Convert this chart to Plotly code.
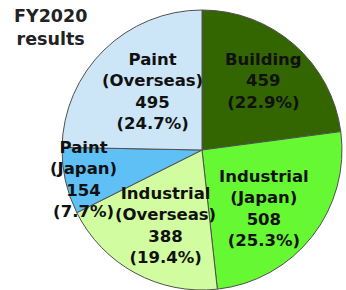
import plotly.graph_objects as go

segments = ["Building", "Industrial (Japan)", "Industrial (Overseas)", "Paint (Japan)", "Paint (Overseas)"]
sales = [459, 508, 388, 154, 495]
colors = ["#336600", "#66f833", "#d2fca0", "#5fc0f5", "#cce6f8"]
title_lines = ["FY2020", "results"]

W, H = 346, 290
# label centres in pixels (layout only)
label_pos = [(263, 81), (264, 208), (165, 225), (83, 179), (152, 91)]

total = sum(sales)
fig = go.Figure(go.Pie(
    labels=segments, values=sales, sort=False, direction="clockwise", rotation=0,
    marker=dict(colors=colors, line=dict(color="#505050", width=1)),
    textinfo="none", hoverinfo="label+value+percent",
    domain=dict(x=[62 / W, 342 / W], y=[0, 1 - 10 / H]),
    showlegend=False,
))

anns = []
for name, v, (px, py) in zip(segments, sales, label_pos):
    txt = name.replace(" (", "<br>(") + f"<br>{v}<br>({v / total * 100:.1f}%)"
    anns.append(dict(x=px / W, y=1 - py / H, xref="paper", yref="paper", text="<b>" + txt + "</b>",
                     showarrow=False, xanchor="center", yanchor="middle", align="center",
                     font=dict(family="DejaVu Sans", size=16.5, color="#111111")))
anns.append(dict(x=50 / W, y=1 - 28 / H, xref="paper", yref="paper",
                 text="<b>" + "<br>".join(title_lines) + "</b>", showarrow=False,
                 xanchor="center", yanchor="middle", align="center",
                 font=dict(family="DejaVu Sans", size=17.5, color="#222222")))

fig.update_layout(width=W, height=H, margin=dict(l=0, r=0, t=0, b=0),
                  paper_bgcolor="white", plot_bgcolor="white", annotations=anns)
fig.write_html("out.html", config={"displayModeBar": False},
               post_script="document.body.style.margin='0';")
